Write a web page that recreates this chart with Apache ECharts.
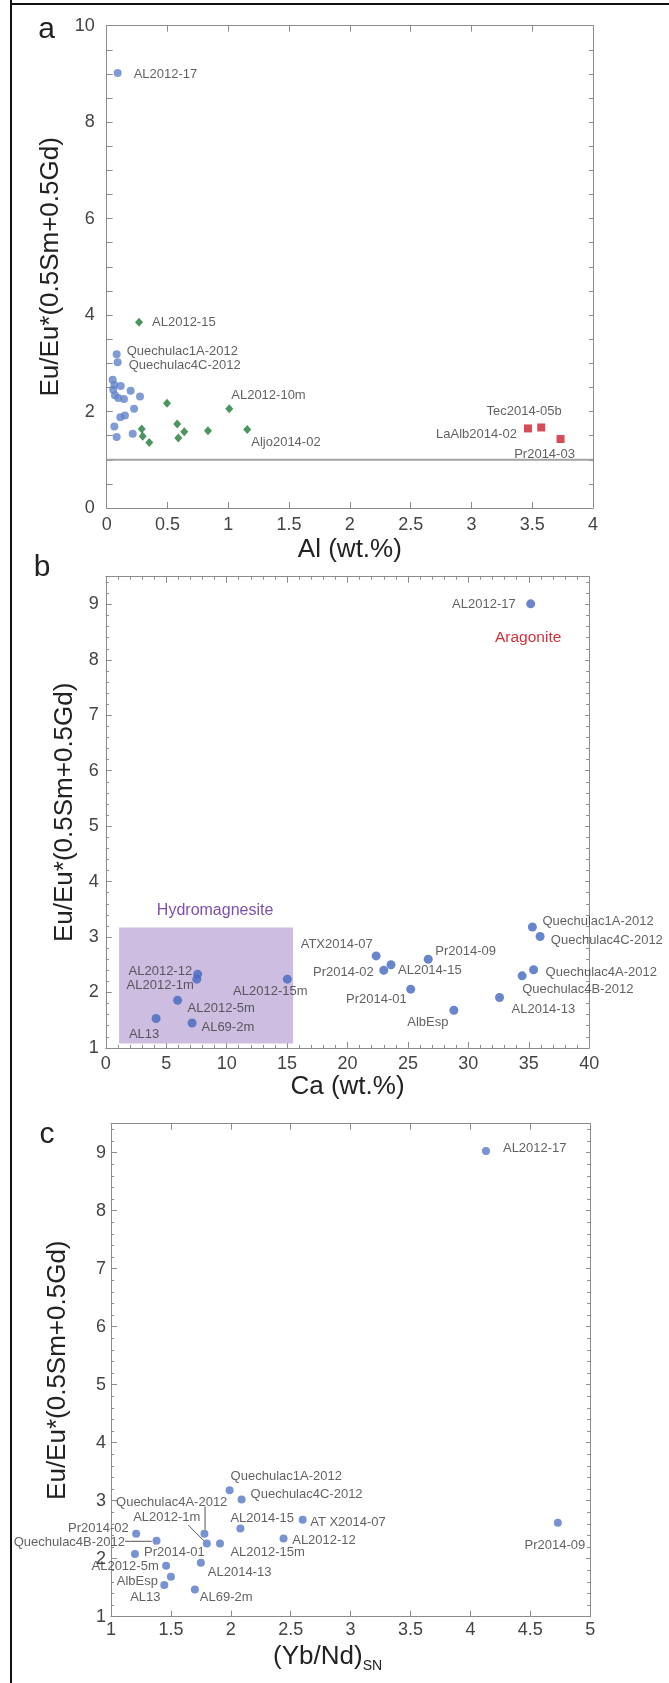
<!DOCTYPE html>
<html><head><meta charset="utf-8">
<script src="https://cdn.jsdelivr.net/npm/echarts@6/dist/echarts.min.js"></script>
<style>html,body{margin:0;padding:0;background:#fff}#c{width:669px;height:1683px}</style>
</head><body><div id="c"></div>
<script>
// ---------- Panel a : Al (wt.%) ----------
const aCircleNames = ['AL2012-17','Quechulac1A-2012','Quechulac4C-2012','','','','','','','','','','','','','','',''];
const aCircleAl = [0.09,0.082,0.09,0.049,0.063,0.115,0.054,0.197,0.068,0.274,0.095,0.142,0.225,0.15,0.112,0.063,0.082,0.214];
const aCircleEu = [9.02,3.19,3.02,2.66,2.55,2.53,2.45,2.43,2.34,2.31,2.28,2.26,2.06,1.92,1.88,1.69,1.47,1.54];
const aDiamondNames = ['AL2012-15','','AL2012-10m','','','','','','','','Aljo2014-02'];
const aDiamondAl = [0.266,0.496,1.008,0.288,0.296,0.35,0.58,0.638,0.589,0.833,1.156];
const aDiamondEu = [3.85,2.17,2.06,1.64,1.49,1.36,1.74,1.58,1.45,1.60,1.63];
const aSquareNames = ['LaAlb2014-02','Tec2014-05b','Pr2014-03'];
const aSquareAl = [3.465,3.574,3.733];
const aSquareEu = [1.65,1.67,1.43];
const aRefLine = [[0,1],[4,1]];
const aXTicks = {min:0,max:4,interval:0.5};
const aYTicks = {min:0,max:10,interval:0.5,labelEvery:2};

// ---------- Panel b : Ca (wt.%) ----------
const bNames = ['AL2012-17','Quechulac1A-2012','Quechulac4C-2012','Quechulac4A-2012','Quechulac4B-2012','AL2014-13','AlbEsp','Pr2014-09','Pr2014-01','AL2014-15','Pr2014-02','ATX2014-07','AL2012-15m','AL2012-12','AL2012-1m','AL2012-5m','AL13','AL69-2m'];
const bCa = [35.16,35.3,35.94,35.4,34.45,32.58,28.8,26.68,25.23,23.6,23.0,22.37,15.02,7.6,7.53,5.94,4.16,7.14];
const bEu = [9.01,3.18,3.01,2.41,2.30,1.91,1.68,2.60,2.06,2.50,2.40,2.66,2.24,2.33,2.24,1.86,1.53,1.45];
const bHydroBox = [[1.1,1.08],[15.5,3.17]];
const bAragonitePos = [34.95,8.40];
const bXTicks = {min:0,max:40,interval:5,minor:5};
const bYTicks = {min:1,max:9.5,interval:1,minor:5};

// ---------- Panel c : (Yb/Nd)SN ----------
const cNames = ['AL2012-17','Pr2014-09','Quechulac1A-2012','Quechulac4C-2012','AT X2014-07','AL2014-15','AL2012-12','Quechulac4A-2012','AL2012-1m','AL2012-15m','Pr2014-02','Quechulac4B-2012','Pr2014-01','AL2012-5m','AL2014-13','AlbEsp','AL13','AL69-2m'];
const cYbNd = [4.13,4.73,1.99,2.09,2.60,2.08,2.44,1.78,1.80,1.91,1.21,1.38,1.20,1.46,1.75,1.50,1.445,1.70];
const cEu = [9.03,2.62,3.18,3.02,2.67,2.52,2.35,2.43,2.26,2.26,2.43,2.31,2.08,1.88,1.93,1.69,1.545,1.47];
const cLeaderQ4A = [[1.785,2.90],[1.785,2.50]];
const cLeaderAL1m = [[1.645,2.58],[1.775,2.31]];
const cLeaderQ4B = [[1.117,2.30],[1.34,2.30]];
const cXTicks = {min:1,max:5,interval:0.5};
const cYTicks = {min:1,max:9.5,interval:1,minor:5};

// ---------- label placement (style only): [align, dx, dy] ----------
const aLayout = {
  'AL2012-17':['left',16,1],'Quechulac1A-2012':['left',10,-3],'Quechulac4C-2012':['left',11,3],
  'AL2012-15':['left',13,0],'AL2012-10m':['left',2,-13],'Aljo2014-02':['left',4,13],
  'LaAlb2014-02':['right',-11,6],'Tec2014-05b':['center',-17,-16],'Pr2014-03':['center',-16,15]
};
const bLayout = {
  'AL2012-17':['right',-15,1],'Quechulac1A-2012':['left',10,-5.6],'Quechulac4C-2012':['left',10.7,3.6],
  'Quechulac4A-2012':['left',12,2.4],'Quechulac4B-2012':['left',0,13.5],'AL2014-13':['left',12,11.6],
  'AlbEsp':['center',-26,12],'Pr2014-09':['left',7,-8],'Pr2014-01':['right',-4,10],
  'AL2014-15':['left',7,6],'Pr2014-02':['right',-10,2],'ATX2014-07':['right',-3.4,-11],
  'AL2012-15m':['center',-17,12],'AL2012-12':['right',-5.5,-3],'AL2012-1m':['right',-3,6],
  'AL2012-5m':['left',10,8],'AL13':['center',-12,15.5],'AL69-2m':['left',9.4,4]
};
const cLayout = {
  'AL2012-17':['left',17,-2.6],'Pr2014-09':['center',-3,23],'Quechulac1A-2012':['left',1,-14],
  'Quechulac4C-2012':['left',9,-5.5],'AT X2014-07':['left',7.5,3],'AL2014-15':['left',-10,-10.3],
  'AL2012-12':['left',8.7,2],'Quechulac4A-2012':['left',-88.4,-31.6],'AL2012-1m':['left',-73.7,-26.6],
  'AL2012-15m':['left',10.4,8.8],'Pr2014-02':['right',-7.4,-5.5],'Quechulac4B-2012':['right',-31.5,1.7],
  'Pr2014-01':['left',9,-1.3],'AL2012-5m':['right',-7.4,1],'AL2014-13':['left',7,10],
  'AlbEsp':['right',-13,4.7],'AL13':['center',-19,12.4],'AL69-2m':['left',5,8]
};

const FONT = '"Liberation Sans", Arial, Helvetica, sans-serif';
const AX = '#8c8c8c';
const TXT = '#3a3a3a';

function pts(names, xs, ys, layout) {
  return xs.map((x, i) => {
    const n = names[i], L = layout[n];
    const d = {value:[x, ys[i]], name:n};
    if (L) d.label = {show:true, formatter:n, position:'inside', align:L[0], verticalAlign:'middle', offset:[L[1], L[2]]};
    return d;
  });
}
const ptLabel = {show:false, fontSize:13, color:TXT, fontFamily:FONT};

function xAx(gi, r, top, o) {
  o = o || {};
  return {
    gridIndex:gi, type:'value', min:r.min, max:r.max, interval:r.interval, position: top ? 'top' : 'bottom',
    axisLine:{show:true, onZero:false, lineStyle:{color:AX, width:1}},
    axisTick:{show:true, inside:true, length:6, lineStyle:{color:AX}},
    minorTick:{show:!!r.minor, splitNumber:r.minor || 5, length:3, lineStyle:{color:AX}},
    splitLine:{show:false}, minorSplitLine:{show:false},
    axisLabel:{show:!top, fontSize:18, color:'#444', fontFamily:FONT, margin:o.margin || 8},
    name: top ? '' : o.name, nameLocation:'middle', nameGap:o.gap,
    nameTextStyle: Object.assign({fontSize:26, color:'#222', fontFamily:FONT}, o.nts || {})
  };
}
function yAx(gi, r, right, o) {
  o = o || {};
  const every = r.labelEvery;
  return {
    gridIndex:gi, type:'value', min:r.min, max:r.max, interval:r.interval, position: right ? 'right' : 'left',
    axisLine:{show:true, onZero:false, lineStyle:{color:AX, width:1}},
    axisTick:{show:true, inside:true, length:right ? 4 : 6, lineStyle:{color:AX}},
    minorTick:{show:!!r.minor, splitNumber:r.minor || 5, length:3, lineStyle:{color:AX}},
    splitLine:{show:false}, minorSplitLine:{show:false},
    axisLabel:{show:!right, fontSize:18, color:'#444', fontFamily:FONT, margin:o.margin || 8,
      formatter: v => every ? (Math.abs(v % every) < 1e-9 ? String(v) : '') : (Number.isInteger(v) ? String(v) : '')},
    name: right ? '' : 'Eu/Eu*(0.5Sm+0.5Gd)', nameLocation:'middle', nameGap:o.gap,
    nameTextStyle:{fontSize:26, color:'#222', fontFamily:FONT}
  };
}

const chart = echarts.init(document.getElementById('c'), null, {renderer:'canvas'});
chart.setOption({
  backgroundColor:'#fff',
  animation:false,
  grid:[
    {left:106.7, top:25.7, width:486.3, height:482.3},
    {left:105.8, top:576.7, width:483.4, height:471.2},
    {left:111, top:1123.7, width:479.2, height:493}
  ],
  xAxis:[
    xAx(0, aXTicks, false, {name:'Al (wt.%)', gap:29, margin:8}),
    xAx(0, aXTicks, true),
    xAx(1, bXTicks, false, {name:'Ca (wt.%)', gap:22, margin:7}),
    xAx(1, bXTicks, true),
    xAx(2, cXTicks, false, {name:'(Yb/Nd){sub|SN}', gap:19, margin:4,
      nts:{padding:[0,46,0,0], rich:{
        sub:{fontSize:14, fontFamily:FONT, color:'#222', verticalAlign:'bottom', lineHeight:34}
      }, lineHeight:34}}),
    xAx(2, cXTicks, true)
  ],
  yAxis:[
    yAx(0, aYTicks, false, {gap:24, margin:12}),
    yAx(0, aYTicks, true),
    yAx(1, bYTicks, false, {gap:27, margin:7}),
    yAx(1, bYTicks, true),
    yAx(2, cYTicks, false, {gap:40, margin:5}),
    yAx(2, cYTicks, true)
  ],
  series:[
    {type:'line', xAxisIndex:0, yAxisIndex:0, data:aRefLine, symbol:'none', silent:true,
     lineStyle:{color:'#a3a3a3', width:1.8}, z:1},
    {type:'scatter', xAxisIndex:0, yAxisIndex:0, symbol:'circle', symbolSize:8,
     itemStyle:{color:'#6282cb'}, label:ptLabel, data:pts(aCircleNames, aCircleAl, aCircleEu, aLayout)},
    {type:'scatter', xAxisIndex:0, yAxisIndex:0, symbol:'diamond', symbolSize:[8,9],
     itemStyle:{color:'#1f7a3a'}, label:ptLabel, data:pts(aDiamondNames, aDiamondAl, aDiamondEu, aLayout)},
    {type:'scatter', xAxisIndex:0, yAxisIndex:0, symbol:'rect', symbolSize:8,
     itemStyle:{color:'#cc1f2e'}, label:ptLabel, data:pts(aSquareNames, aSquareAl, aSquareEu, aLayout)},

    {type:'scatter', xAxisIndex:2, yAxisIndex:2, symbol:'circle', symbolSize:9,
     itemStyle:{color:'#4468bf'}, label:ptLabel, data:pts(bNames, bCa, bEu, bLayout),
     markArea:{silent:true, itemStyle:{color:'#cdbde0', opacity:1},
       label:{show:true, position:'top', distance:9, offset:[9,0], color:'#7f4fae', fontSize:16, fontFamily:FONT},
       data:[[{coord:bHydroBox[0], name:'Hydromagnesite'}, {coord:bHydroBox[1]}]]},
     markPoint:{silent:true, data:[{coord:bAragonitePos, symbol:'circle', symbolSize:1, itemStyle:{color:'rgba(0,0,0,0)'},
       label:{show:true, position:'inside', formatter:'Aragonite', color:'#d2323c', fontSize:15.5, fontFamily:FONT}}]}},

    {type:'line', xAxisIndex:4, yAxisIndex:4, data:cLeaderQ4A, symbol:'none', silent:true, lineStyle:{color:'#555', width:1}},
    {type:'line', xAxisIndex:4, yAxisIndex:4, data:cLeaderAL1m, symbol:'none', silent:true, lineStyle:{color:'#555', width:1}},
    {type:'line', xAxisIndex:4, yAxisIndex:4, data:cLeaderQ4B, symbol:'none', silent:true, lineStyle:{color:'#555', width:1}},
    {type:'scatter', xAxisIndex:4, yAxisIndex:4, symbol:'circle', symbolSize:8,
     itemStyle:{color:'#5877c6'}, label:ptLabel, data:pts(cNames, cYbNd, cEu, cLayout)}
  ],
  graphic:[
    {type:'line', shape:{x1:11, y1:0, x2:11, y2:1683}, style:{stroke:'#111', lineWidth:2}, silent:true},
    {type:'line', shape:{x1:10, y1:4, x2:669, y2:4}, style:{stroke:'#111', lineWidth:2}, silent:true},
    {type:'text', x:46.7, y:30, style:{text:'a', fontSize:30, fontFamily:FONT, fill:'#222', align:'center', verticalAlign:'middle'}},
    {type:'text', x:42, y:568, style:{text:'b', fontSize:30, fontFamily:FONT, fill:'#222', align:'center', verticalAlign:'middle'}},
    {type:'text', x:47, y:1135, style:{text:'c', fontSize:30, fontFamily:FONT, fill:'#222', align:'center', verticalAlign:'middle'}}
  ]
});
</script></body></html>
